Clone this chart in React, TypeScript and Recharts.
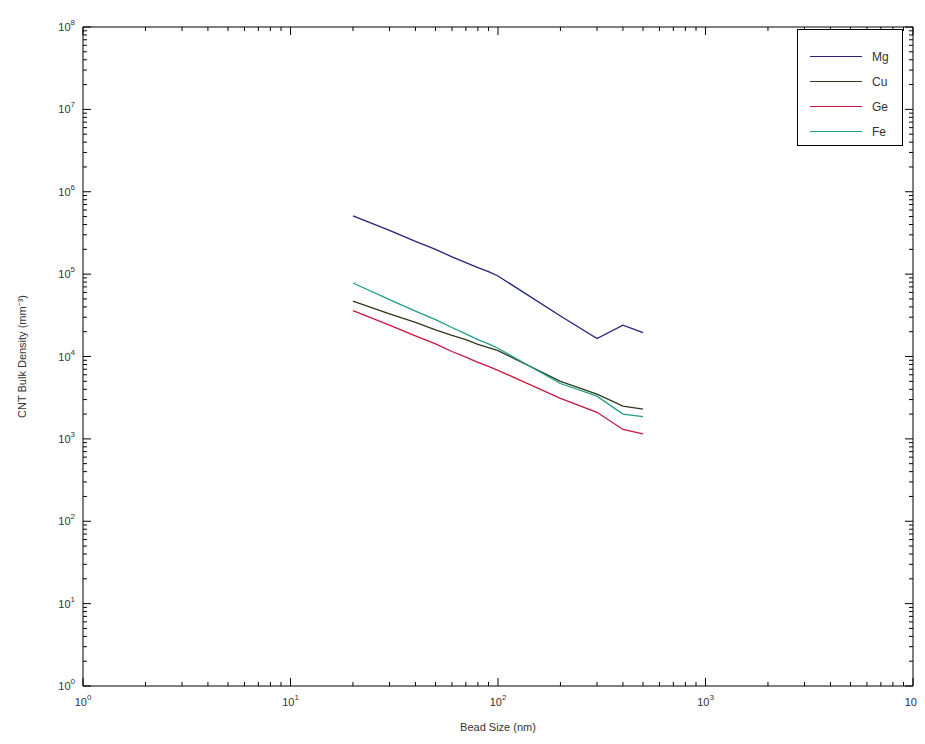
import React from 'react';
import { LineChart, Line, XAxis, YAxis } from 'recharts';

// bead sizes (nm) and bulk densities
const beadSize = [20, 30, 40, 50, 60, 70, 80, 90, 100, 200, 300, 400, 500];
const mg = [5.1e5, 3.4e5, 2.5e5, 2.0e5, 1.62e5, 1.38e5, 1.2e5, 1.07e5, 9.5e4, 3.1e4, 1.65e4, 2.4e4, 1.95e4];
const cu = [4.7e4, 3.3e4, 2.6e4, 2.1e4, 1.8e4, 1.6e4, 1.4e4, 1.28e4, 1.18e4, 5.0e3, 3.5e3, 2.5e3, 2.3e3];
const ge = [3.6e4, 2.4e4, 1.78e4, 1.42e4, 1.15e4, 9.8e3, 8.5e3, 7.6e3, 6.8e3, 3.1e3, 2.1e3, 1.3e3, 1.15e3];
const fe = [7.8e4, 4.9e4, 3.55e4, 2.8e4, 2.25e4, 1.88e4, 1.6e4, 1.42e4, 1.26e4, 4.7e3, 3.3e3, 2.0e3, 1.86e3];

const series = [
  { key: 'mg', name: 'Mg', color: '#23237a' },
  { key: 'cu', name: 'Cu', color: '#2f3a1c' },
  { key: 'ge', name: 'Ge', color: '#c8163f' },
  { key: 'fe', name: 'Fe', color: '#1f9e8a' },
];

const xDecades = [0, 1, 2, 3, 4];
const yDecades = [0, 1, 2, 3, 4, 5, 6, 7, 8];

const logTicks = (decades: number[]) => {
  const out: number[] = [];
  decades.forEach((d, i) => {
    out.push(Math.pow(10, d));
    if (i < decades.length - 1) {
      for (let m = 2; m <= 9; m++) out.push(m * Math.pow(10, d));
    }
  });
  return out;
};
const xTicks = logTicks(xDecades);
const yTicks = logTicks(yDecades);

const data = beadSize.map((s, i) => ({ size: s, mg: mg[i], cu: cu[i], ge: ge[i], fe: fe[i] }));

const isMajor = (v: number) => Math.abs(Math.log10(v) - Math.round(Math.log10(v))) < 1e-6;

const font = '"Liberation Sans", Arial, sans-serif';

const Pow = ({ v }: { v: number }) => (
  <>
    <tspan>10</tspan>
    <tspan dy={-6} fontSize={8}>{Math.round(Math.log10(v))}</tspan>
  </>
);

const BottomTick = ({ x, y, payload }: any) => {
  const major = isMajor(payload.value);
  return (
    <g>
      <line x1={x} y1={y} x2={x} y2={y - (major ? 8 : 4)} stroke="#000" />
      {major && (
        <text x={x} y={y + 20} textAnchor="middle" fontSize={11} fontFamily={font} fill="#333">
          <Pow v={payload.value} />
        </text>
      )}
    </g>
  );
};

const TopTick = ({ x, y, payload }: any) => {
  const major = isMajor(payload.value);
  return <line x1={x} y1={y} x2={x} y2={y + (major ? 8 : 4)} stroke="#000" />;
};

const LeftTick = ({ x, y, payload }: any) => {
  const major = isMajor(payload.value);
  return (
    <g>
      <line x1={x} y1={y} x2={x + (major ? 8 : 4)} y2={y} stroke="#000" />
      {major && (
        <text x={x - 8} y={y + 4} textAnchor="end" fontSize={11} fontFamily={font} fill="#333">
          <Pow v={payload.value} />
        </text>
      )}
    </g>
  );
};

const RightTick = ({ x, y, payload }: any) => {
  const major = isMajor(payload.value);
  return <line x1={x} y1={y} x2={x - (major ? 8 : 4)} y2={y} stroke="#000" />;
};

export default function App() {
  return (
    <div style={{ position: 'relative', width: 917, height: 728, fontFamily: font }}>
      <LineChart width={917} height={728} data={data} margin={{ top: 18, right: 11, bottom: 10, left: 0 }} style={{ overflow: 'visible' }}>
        <XAxis
          xAxisId="b"
          dataKey="size"
          type="number"
          scale="log"
          domain={[1, 10000]}
          ticks={xTicks}
          interval={0}
          allowDataOverflow
          height={40}
          tickSize={0}
          tickMargin={0}
          stroke="#000"
          tick={<BottomTick />}
          label={{ value: 'Bead Size (nm)', position: 'insideBottom', offset: -5, fontSize: 11, fill: '#333' }}
        />
        <XAxis
          xAxisId="t"
          orientation="top"
          dataKey="size"
          type="number"
          scale="log"
          domain={[1, 10000]}
          ticks={xTicks}
          interval={0}
          allowDataOverflow
          height={1}
          tickSize={0}
          tickMargin={0}
          stroke="#000"
          tick={<TopTick />}
        />
        <YAxis
          yAxisId="l"
          type="number"
          scale="log"
          domain={[1, 1e8]}
          ticks={yTicks}
          interval={0}
          allowDataOverflow
          width={75}
          tickSize={0}
          tickMargin={0}
          stroke="#000"
          tick={<LeftTick />}
          label={{ value: 'CNT Bulk Density (mm⁻³)', angle: -90, position: 'insideLeft', offset: 14, style: { textAnchor: 'middle' }, fontSize: 11, fill: '#333' }}
        />
        <YAxis
          yAxisId="r"
          orientation="right"
          type="number"
          scale="log"
          domain={[1, 1e8]}
          ticks={yTicks}
          interval={0}
          allowDataOverflow
          width={1}
          tickSize={0}
          tickMargin={0}
          stroke="#000"
          tick={<RightTick />}
        />
        {series.map((s) => (
          <Line
            key={s.key}
            xAxisId="b"
            yAxisId="l"
            dataKey={s.key}
            name={s.name}
            stroke={s.color}
            strokeWidth={1.3}
            dot={false}
            isAnimationActive={false}
          />
        ))}
      </LineChart>
      <div
        style={{
          position: 'absolute',
          left: 789,
          top: 21,
          width: 106,
          height: 117,
          border: '1px solid #000',
          background: '#fff',
          boxSizing: 'border-box',
          padding: '14px 0 0 12px',
        }}
      >
        {series.map((s) => (
          <div key={s.key} style={{ display: 'flex', alignItems: 'center', height: 25 }}>
            <div style={{ width: 52, height: 0, borderTop: `1.5px solid ${s.color}` }} />
            <span style={{ marginLeft: 10, fontSize: 12, color: '#333' }}>{s.name}</span>
          </div>
        ))}
      </div>
    </div>
  );
}
